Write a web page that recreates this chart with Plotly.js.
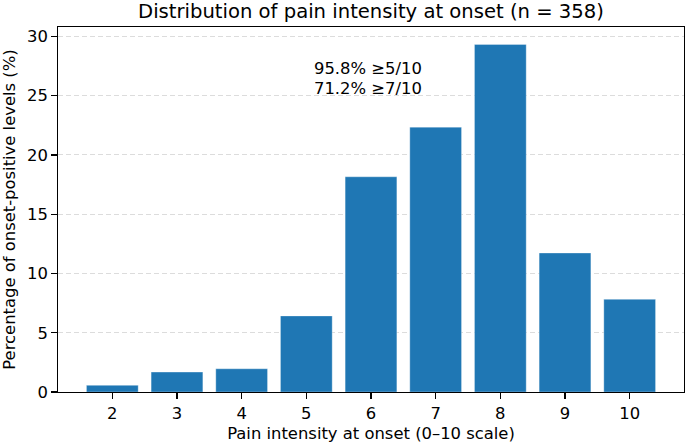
<!DOCTYPE html>
<html>
<head>
<meta charset="utf-8">
<script src="https://cdn.plot.ly/plotly-3.0.1.min.js"></script>
<style>
  html, body { margin: 0; padding: 0; background: #fff; }
  #chart { width: 688px; height: 446px; }
</style>
</head>
<body>
<div id="chart"></div>
<script>
// Pain intensity scores (0–10 scale) and share of onset-positive levels (%)
const painScores = [2, 3, 4, 5, 6, 7, 8, 9, 10];
const percentages = [0.56, 1.68, 1.96, 6.42, 18.16, 22.35, 29.33, 11.73, 7.82];
const tickValues = [2, 3, 4, 5, 6, 7, 8, 9, 10];
const tickLabels = ['2', '3', '4', '5', '6', '7', '8', '9', '10'];
const yTicks = [0, 5, 10, 15, 20, 25, 30];
const sampleSize = 358;

// Cumulative shares for the summary note
function shareAtLeast(threshold) {
  let total = 0;
  painScores.forEach((s, i) => { if (s >= threshold) total += percentages[i]; });
  return total.toFixed(1);
}

const font = 'DejaVu Sans, Liberation Sans, sans-serif';

const trace = {
  type: 'bar',
  x: painScores,
  y: percentages,
  width: 0.8,
  marker: {
    color: '#1f77b4',
    line: { color: 'rgba(255,255,255,0.55)', width: 0.6 }
  },
  hoverinfo: 'x+y'
};

const layout = {
  width: 688,
  height: 446,
  margin: { l: 58, r: 4, t: 27, b: 54, pad: 0 },
  paper_bgcolor: '#ffffff',
  plot_bgcolor: '#ffffff',
  font: { family: font, color: '#000', size: 16.4 },
  showlegend: false,
  title: {
    text: 'Distribution of pain intensity at onset (n = ' + sampleSize + ')',
    font: { family: font, size: 19.6, color: '#000' },
    x: 0.5, xanchor: 'center', xref: 'paper',
    y: 0.976, yanchor: 'middle', yref: 'container'
  },
  xaxis: {
    range: [1.16, 10.84],
    tickmode: 'array',
    tickvals: tickValues,
    ticktext: tickLabels,
    ticks: 'outside', ticklen: 5.7, tickwidth: 1.2, tickcolor: '#000',
    showline: true, linecolor: '#000', linewidth: 1.2, mirror: true,
    showgrid: false, zeroline: false,
    tickfont: { family: font, size: 16.4, color: '#000' },
    title: { text: 'Pain intensity at onset (0–10 scale)', font: { family: font, size: 16.4, color: '#000' }, standoff: 6 }
  },
  yaxis: {
    range: [0, 30.8],
    tickmode: 'array',
    tickvals: yTicks,
    ticks: 'outside', ticklen: 5.7, tickwidth: 1.2, tickcolor: '#000',
    showline: true, linecolor: '#000', linewidth: 1.2, mirror: true,
    showgrid: true, gridcolor: '#dcdcdc', gridwidth: 1, griddash: '5px,3px',
    zeroline: false,
    tickfont: { family: font, size: 16.4, color: '#000' },
    title: { text: 'Percentage of onset-positive levels (%)', font: { family: font, size: 16.4, color: '#000' }, standoff: 8 }
  },
  annotations: [
    {
      text: shareAtLeast(5) + '% ≥5/10',
      xref: 'paper', yref: 'paper', x: 0.495, y: 0.885,
      xanchor: 'center', yanchor: 'middle', showarrow: false,
      font: { family: font, size: 16.4, color: '#000' }
    },
    {
      text: shareAtLeast(7) + '% ≥7/10',
      xref: 'paper', yref: 'paper', x: 0.495, y: 0.831,
      xanchor: 'center', yanchor: 'middle', showarrow: false,
      font: { family: font, size: 16.4, color: '#000' }
    }
  ]
};

Plotly.newPlot('chart', [trace], layout, { displayModeBar: false, staticPlot: true });
</script>
</body>
</html>
